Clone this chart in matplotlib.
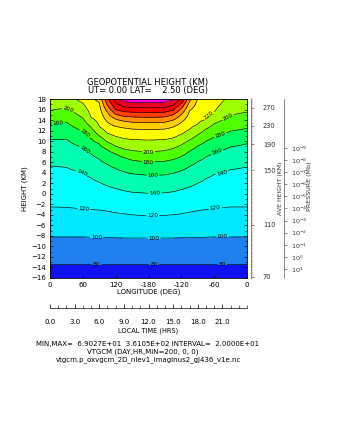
import numpy as np
import matplotlib
matplotlib.use("Agg")
import matplotlib.pyplot as plt
from matplotlib.colors import ListedColormap, BoundaryNorm

# ---------------- data ----------------
# longitude columns (deg, 0..360 shown as 0,60,120,-180,-120,-60,0)
lon = [0, 30, 60, 75, 90, 105, 120, 135, 150, 180, 210, 225, 240, 255, 270, 285, 300, 330, 360]
# contour values (km) and the log-pressure height (Z) at which each crosses every column
contour_values = [60, 80, 100, 120, 140, 160, 180, 200, 220, 240, 260, 280, 300, 320, 340, 360]
h60 = [-18.2] * 19
h80 = [-13.4] * 19
h100 = [-8.2, -8.2, -8.2, -8.25, -8.3, -8.3, -8.35, -8.4, -8.4, -8.4, -8.4, -8.4, -8.35, -8.3, -8.3, -8.25, -8.2, -8.2, -8.2]
h120 = [-2.5, -2.6, -2.9, -3.0, -3.1, -3.3, -3.6, -3.8, -4.0, -4.2, -4.1, -4.0, -3.8, -3.5, -3.2, -3.0, -2.8, -2.5, -2.5]
h140 = [5.3, 5.0, 4.0, 3.0, 2.2, 1.5, 1.0, 0.6, 0.3, 0.1, 0.2, 0.4, 0.8, 1.3, 2.0, 2.9, 3.7, 4.6, 5.1]
h160 = [10.3, 10.4, 8.8, 7.6, 6.6, 5.6, 4.8, 4.2, 3.8, 3.5, 3.6, 3.9, 4.4, 5.2, 6.1, 7.0, 7.8, 8.9, 9.5]
h180 = [13.4, 13.6, 11.8, 10.5, 9.5, 8.4, 7.6, 6.9, 6.4, 6.0, 6.2, 6.5, 7.1, 8.1, 9.1, 10.0, 10.8, 11.9, 12.4]
h200 = [15.8, 16.3, 14.4, 12.6, 11.0, 9.8, 9.0, 8.5, 8.2, 7.9, 8.2, 8.6, 9.3, 10.2, 11.2, 12.3, 13.3, 14.9, 15.5]
h220 = [19.5, 19.0, 17.2, 14.5, 12.8, 11.5, 10.9, 10.5, 10.3, 10.2, 10.3, 10.6, 11.3, 12.2, 13.2, 14.1, 15.5, 19.0, 19.5]
h240 = [21.0, 20.5, 20.0, 19.0, 17.4, 13.6, 12.8, 12.5, 12.3, 12.2, 12.3, 12.7, 13.6, 15.8, 18.3, 20.0, 20.5, 20.5, 21.0]
h260 = [22.0, 21.5, 21.0, 20.5, 19.0, 15.5, 14.2, 13.8, 13.6, 13.5, 13.6, 14.0, 15.1, 17.6, 19.5, 21.0, 21.5, 21.5, 22.0]
h280 = [23.0, 22.5, 22.0, 21.5, 20.5, 16.8, 15.1, 14.7, 14.6, 14.5, 14.6, 15.0, 16.2, 18.5, 20.5, 22.0, 22.5, 22.5, 23.0]
h300 = [24.0, 23.5, 23.0, 22.5, 21.5, 18.3, 16.0, 15.6, 15.5, 15.4, 15.5, 15.9, 17.2, 19.0, 21.5, 23.0, 23.5, 23.5, 24.0]
h320 = [25.0, 24.5, 24.0, 23.5, 22.5, 20.0, 17.3, 16.5, 16.35, 16.3, 16.4, 16.8, 18.0, 19.5, 22.5, 24.0, 24.5, 24.5, 25.0]
h340 = [26.0, 25.5, 25.0, 24.5, 23.5, 21.5, 18.4, 17.6, 17.35, 17.3, 17.4, 17.8, 18.6, 20.5, 23.5, 25.0, 25.5, 25.5, 26.0]
h360 = [27.0, 26.5, 26.0, 25.5, 24.5, 23.0, 20.0, 19.0, 18.3, 18.02, 18.3, 19.0, 20.0, 22.0, 24.5, 26.0, 26.5, 26.5, 27.0]
crossing_heights = [h60, h80, h100, h120, h140, h160, h180, h200, h220, h240,
                    h260, h280, h300, h320, h340, h360]

lon_tick_values = [0, 60, 120, 180, 240, 300, 360]
lon_tick_labels = ["0", "60", "120", "-180", "-120", "-60", "0"]
z_ticks = list(range(-16, 19, 2))
lt_ticks = [0, 3, 6, 9, 12, 15, 18, 21]
ave_height_labels = [270, 230, 190, 150, 110, 70]
ave_height_z = [16.3, 12.9, 9.4, 4.5, -5.9, -15.8]
pressure_exponents = [-9, -8, -7, -6, -5, -4, -3, -2, -1, 0, 1]
fill_levels = [60, 80, 100, 120, 140, 160, 180, 200, 220, 240, 260, 280, 300, 320, 340, 360, 380]
line_levels = [80, 100, 120, 140, 160, 180, 200, 220, 240, 260, 280, 300, 320, 340, 360]
band_colors = ["#1010f0", "#2080f0", "#00e8ff", "#00ffff", "#00ffb0", "#00ff60",
               "#50ff00", "#a0ff00", "#ffff00", "#ffd000", "#ff9000", "#ff4000",
               "#ff0000", "#e8001e", "#ff00e0", "#ff00ff"]

# ---------------- field on a (Z, lon) grid ----------------
z = np.linspace(-16, 18, 137)
H = np.array(crossing_heights)
V = np.array(contour_values, dtype=float)
field = np.empty((z.size, len(lon)))
for j in range(len(lon)):
    field[:, j] = np.interp(z, H[:, j], V)

# ---------------- figure ----------------
W, Hpx = 338, 437
fig = plt.figure(figsize=(W / 100, Hpx / 100), dpi=100)
fig.patch.set_facecolor("white")

def fx(px):
    return px / W

def fy(py):
    return 1 - py / Hpx

x0, x1, y0, y1 = 50, 247, 99, 278
ax = fig.add_axes([fx(x0), fy(y1), fx(x1 - x0), (y1 - y0) / Hpx])
cmap = ListedColormap(band_colors)
norm = BoundaryNorm(fill_levels, cmap.N)
ax.contourf(lon, z, field, levels=fill_levels, cmap=cmap, norm=norm)
cs = ax.contour(lon, z, field, levels=line_levels, colors="black", linewidths=0.45)

# contour labels near the three label columns
def z_of(level, lo):
    k = contour_values.index(level)
    return float(np.interp(lo, lon, crossing_heights[k]))

label_spots = [(80, 85), (80, 190), (80, 315), (100, 85), (100, 190), (100, 315),
               (120, 62), (120, 188), (120, 302), (140, 58), (140, 192), (140, 314),
               (160, 64), (160, 188), (160, 305), (180, 15), (180, 64), (180, 180), (180, 311),
               (200, 33), (200, 180), (200, 325), (220, 292)]
manual = [(lo, z_of(lv, lo)) for lv, lo in label_spots]
ax.clabel(cs, fmt="%d", fontsize=4.2, inline=True, inline_spacing=1, manual=manual)

ax.set_xlim(0, 360)
ax.set_ylim(-16, 18)
ax.set_xticks(lon_tick_values)
ax.set_xticklabels(lon_tick_labels)
ax.set_yticks(z_ticks)
ax.set_yticks(range(-16, 19), minor=True)
ax.tick_params(axis="both", labelsize=5, direction="in", length=2.5, width=0.5, pad=3)
ax.tick_params(axis="y", which="minor", direction="in", length=1.2, width=0.4)
ax.tick_params(axis="y", right=True, which="both")
for s in ax.spines.values():
    s.set_linewidth(0.6)
ax.set_xlabel("LONGITUDE (DEG)", fontsize=5, labelpad=0)
ax.set_ylabel("HEIGHT (KM)", fontsize=5, labelpad=2)

# average height axis
axh = fig.add_axes([fx(251), fy(y1), 0.0001, (y1 - y0) / Hpx])
axh.set_ylim(-16, 18)
axh.set_xticks([])
for k in ["left", "top", "bottom"]:
    axh.spines[k].set_visible(False)
axh.spines["right"].set_linewidth(0.5)
axh.spines["right"].set_color("#555555")
axh.yaxis.tick_right()
axh.set_yticks(ave_height_z)
axh.set_yticklabels([str(v) for v in ave_height_labels])
axh.set_yticks(np.arange(-16, 18.1, 0.5), minor=True)
axh.tick_params(axis="y", which="major", labelsize=4.8, length=2.5, width=0.4, pad=6, colors="#333333")
axh.tick_params(axis="y", which="minor", length=1.5, width=0.3, colors="#555555")
fig.text(fx(280.5), fy(188), "AVE HEIGHT (KM)", rotation=90, fontsize=4.4,
         ha="center", va="center", color="#333333")

# pressure axis
axp = fig.add_axes([fx(284), fy(y1), 0.0001, (y1 - y0) / Hpx])
axp.set_ylim(-16, 18)
axp.set_xticks([])
for k in ["right", "top", "bottom"]:
    axp.spines[k].set_visible(False)
axp.spines["left"].set_linewidth(0.5)
axp.spines["left"].set_color("#555555")
p_z = [-np.log(10.0 ** e) - 12.0 for e in pressure_exponents]
axp.yaxis.tick_right()
axp.set_yticks(p_z)
axp.set_yticklabels([r"$10^{%d}$" % e for e in pressure_exponents])
axp.tick_params(axis="y", labelsize=4.6, length=2, width=0.4, pad=3, colors="#333333")
fig.text(fx(310), fy(186), "PRESSURE (Mb)", rotation=90, fontsize=4.6,
         ha="center", va="center", color="#333333")

# local time axis
axt = fig.add_axes([fx(x0), fy(308), fx(x1 - x0), 0.0001])
axt.set_xlim(0, 24)
axt.set_yticks([])
for k in ["left", "right", "top"]:
    axt.spines[k].set_visible(False)
axt.spines["bottom"].set_linewidth(0.5)
axt.set_xticks(lt_ticks)
axt.set_xticklabels(["%.1f" % v for v in lt_ticks])
axt.set_xticks(range(0, 25), minor=True)
axt.tick_params(axis="x", which="major", direction="in", length=3, width=0.5, labelsize=5, pad=8)
axt.tick_params(axis="x", which="minor", direction="in", length=2, width=0.4)
fig.text(fx(148), fy(331), "LOCAL TIME (HRS)", fontsize=4.8, ha="center", va="center")

# titles and footer
fig.text(fx(148), fy(82), "GEOPOTENTIAL HEIGHT (KM)", fontsize=6, ha="center", va="center")
fig.text(fx(148), fy(91), "UT= 0.00 LAT=    2.50 (DEG)", fontsize=6, ha="center", va="center")
fig.text(fx(148), fy(344), "MIN,MAX=  6.9027E+01  3.6105E+02 INTERVAL=  2.0000E+01",
         fontsize=5, ha="center", va="center")
fig.text(fx(143), fy(352), "VTGCM (DAY,HR,MIN=200, 0, 0)", fontsize=5, ha="center", va="center")
fig.text(fx(148), fy(360), "vtgcm.p_oxvgcm_2D_nlev1_imaginus2_gj436_v1e.nc",
         fontsize=5, ha="center", va="center")

fig.savefig("out.png", dpi=100)
